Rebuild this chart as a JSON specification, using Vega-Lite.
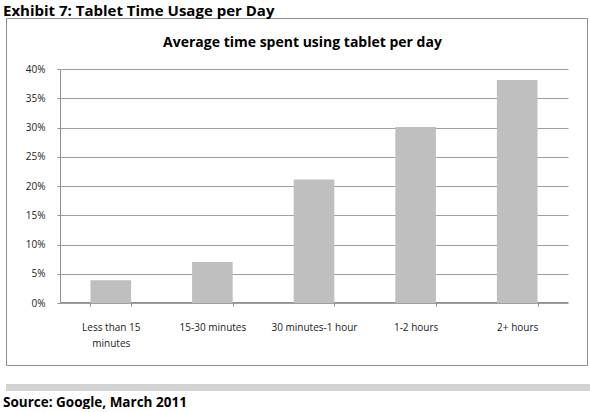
{
  "$schema": "https://vega.github.io/schema/vega-lite/v6.json",
  "padding": {"left": 3, "top": 3, "right": 0, "bottom": 0},
  "title": {"text": "Exhibit 7: Tablet Time Usage per Day", "anchor": "start", "frame": "group", "fontSize": 15, "font": "Open Sans", "fontWeight": "bold", "color": "#000000", "dx": -3, "offset": -1},
  "spacing": 15,
  "config": {"view": {"stroke": null}, "font": "Open Sans"},
  "vconcat": [
    {
      "data": {"values": [
        {"category": "Less than 15 minutes", "share": 0.039},
        {"category": "15-30 minutes", "share": 0.07},
        {"category": "30 minutes-1  hour", "share": 0.211},
        {"category": "1-2 hours", "share": 0.301},
        {"category": "2+ hours", "share": 0.381}
      ]},
      "width": 581,
      "height": 347,
      "view": {"stroke": "#8f8f8f", "strokeWidth": 1},
      "title": {"text": "Average time spent using tablet per day", "anchor": "middle", "frame": "group", "fontSize": 14, "font": "Open Sans", "fontWeight": "bold", "color": "#000000", "offset": -32, "dx": 6},
      "mark": {"type": "bar", "color": "#bfbfbf"},
      "encoding": {
        "x": {"field": "category", "type": "nominal", "sort": null,
          "scale": {"range": [54, 562], "paddingInner": 0.6, "paddingOuter": 0.3},
          "axis": {"title": null, "labelAngle": 0, "offset": -63, "tickBand": "extent", "tickSize": 4, "tickColor": "#8f8f8f", "domainColor": "#8f8f8f", "labelPadding": 16, "labelFontSize": 10, "labelColor": "#222222", "labelFont": "Open Sans", "labelExpr": "datum.value == 'Less than 15 minutes' ? ['Less than 15', 'minutes'] : datum.value", "labelLineHeight": 16, "grid": false}},
        "y": {"field": "share", "type": "quantitative",
          "scale": {"domain": [0, 0.4], "range": [285, 51], "nice": false},
          "axis": {"title": null, "values": [0, 0.05, 0.1, 0.15, 0.2, 0.25, 0.3, 0.35, 0.4], "format": ".0%", "offset": -54, "tickSize": 3, "labelPadding": 12, "grid": true, "gridColor": "#a0a0a0", "gridOpacity": 1, "domainColor": "#8f8f8f", "tickColor": "#8f8f8f", "labelFontSize": 10, "labelColor": "#222222", "labelFont": "Open Sans"}}
      }
    },
    {
      "data": {"values": [{}]},
      "width": 587,
      "height": 7,
      "view": {"fill": "#d3d3d3", "stroke": null},
      "title": {"text": "Source: Google, March 2011", "orient": "bottom", "anchor": "start", "frame": "group", "fontSize": 13.5, "font": "Open Sans", "fontWeight": "bold", "color": "#000000", "dx": -3, "offset": 3},
      "mark": "text",
      "encoding": {"text": {"value": ""}}
    }
  ]
}
